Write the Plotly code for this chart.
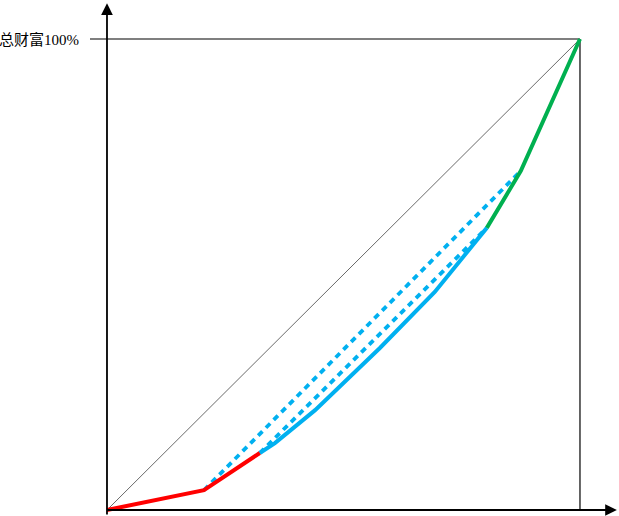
import plotly.graph_objects as go

# Lorenz curve segments (percent of population, percent of wealth)
red_x = [0, 20.5, 32.3]
red_y = [0, 4.2, 12.1]
blue_x = [32.3, 35.5, 44.0, 57.7, 69.3, 80.3]
blue_y = [12.1, 14.2, 21.2, 34.4, 46.3, 59.9]
green_x = [80.3, 87.5, 100]
green_y = [59.9, 72.0, 100]
dash_outer_x = [20.5, 87.5]
dash_outer_y = [4.2, 72.0]
dash_inner_x = [32.3, 80.3]
dash_inner_y = [12.1, 59.9]
equality_x = [0, 100]
equality_y = [0, 100]
top_label = "总财富100%"

fig = go.Figure()

# frame lines (right side, top)
fig.add_trace(go.Scatter(x=[100, 100], y=[0, 100], mode="lines",
                         line=dict(color="black", width=1.2), hoverinfo="skip"))
fig.add_trace(go.Scatter(x=[-3.6, 100], y=[100, 100], mode="lines",
                         line=dict(color="black", width=1.2), hoverinfo="skip"))
# line of equality
fig.add_trace(go.Scatter(x=equality_x, y=equality_y, mode="lines",
                         line=dict(color="#444444", width=0.8), hoverinfo="skip"))
# dashed lines
fig.add_trace(go.Scatter(x=dash_outer_x, y=dash_outer_y, mode="lines",
                         line=dict(color="#00B0F0", width=3.8, dash="6px,5px"), hoverinfo="skip"))
fig.add_trace(go.Scatter(x=dash_inner_x, y=dash_inner_y, mode="lines",
                         line=dict(color="#00B0F0", width=3.8, dash="6px,5px"), hoverinfo="skip"))
# Lorenz curve
fig.add_trace(go.Scatter(x=blue_x, y=blue_y, mode="lines",
                         line=dict(color="#00B0F0", width=4), hoverinfo="skip"))
fig.add_trace(go.Scatter(x=red_x, y=red_y, mode="lines",
                         line=dict(color="#FF0000", width=4), hoverinfo="skip"))
fig.add_trace(go.Scatter(x=green_x, y=green_y, mode="lines",
                         line=dict(color="#00B050", width=4), hoverinfo="skip"))

# axes with arrows
fig.add_annotation(x=0, y=107.6, ax=0, ay=-1.3, xref="x", yref="y", axref="x", ayref="y",
                   showarrow=True, arrowhead=2, arrowsize=1.3, arrowwidth=1.8,
                   arrowcolor="black", text="")
fig.add_annotation(x=107.8, y=0, ax=-0.3, ay=0, xref="x", yref="y", axref="x", ayref="y",
                   showarrow=True, arrowhead=2, arrowsize=1.3, arrowwidth=1.8,
                   arrowcolor="black", text="")

fig.add_annotation(x=-5.6, y=100, xref="x", yref="y", text=top_label, showarrow=False,
                   xanchor="right", yanchor="middle",
                   font=dict(family="Liberation Serif, Noto Sans CJK SC", size=15, color="black"))

fig.update_layout(
    width=619, height=516,
    margin=dict(l=0, r=0, t=0, b=0),
    plot_bgcolor="white", paper_bgcolor="white",
    showlegend=False,
    xaxis=dict(visible=False, range=[-22.62, 108.25], fixedrange=True),
    yaxis=dict(visible=False, range=[-1.274, 108.28], fixedrange=True),
)

fig.write_html("out.html", config={"displayModeBar": False},
               post_script="document.body.style.margin='0';document.body.style.overflow='hidden';")
